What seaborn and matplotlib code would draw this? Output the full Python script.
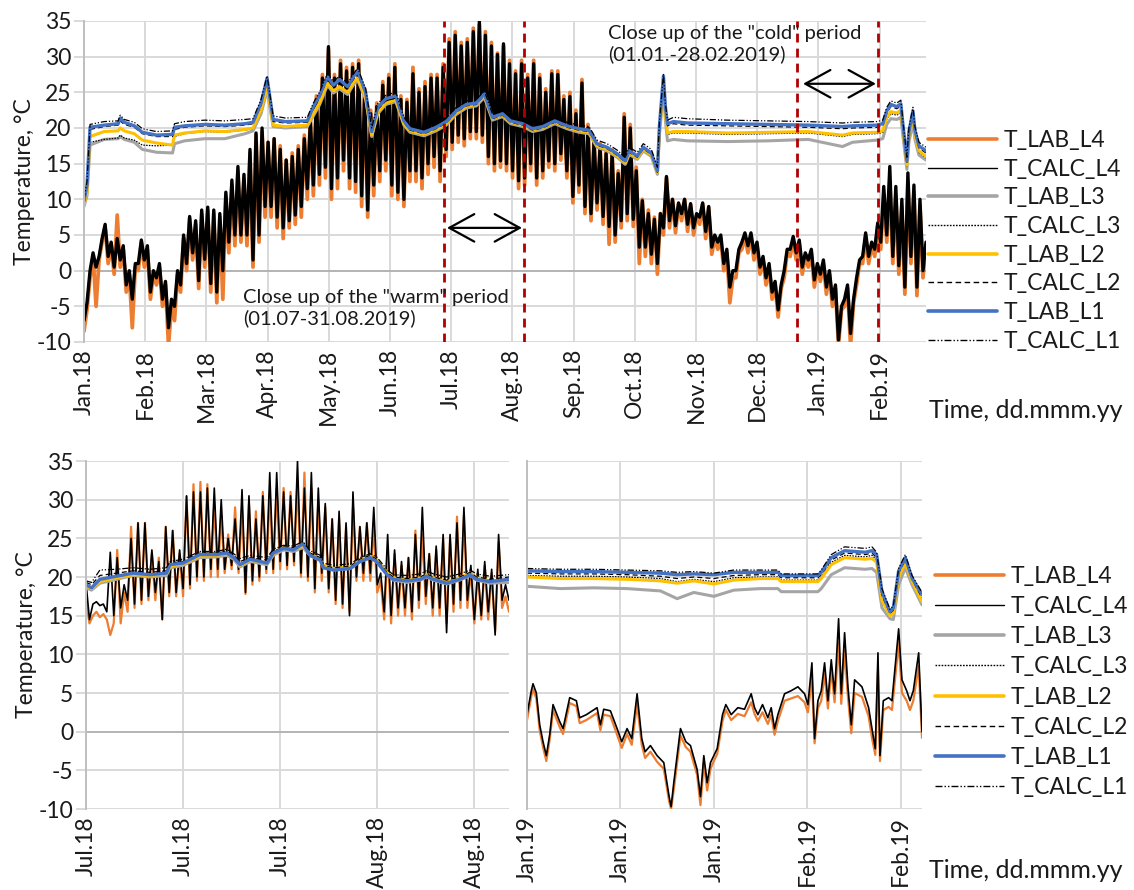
import numpy as np
import matplotlib
matplotlib.use("Agg")
import matplotlib.pyplot as plt
from matplotlib.lines import Line2D
import seaborn as sns

# ---------------------------------------------------------------- data
# Full period (days from the start of the record, 01.2018 - 02.2019)
top_ticks_labels = ["Jan.18", "Feb.18", "Mar.18", "Apr.18", "May.18", "Jun.18", "Jul.18",
                    "Aug.18", "Sep.18", "Oct.18", "Nov.18", "Dec.18", "Jan.19", "Feb.19"]
top_tick_step = 30.42
top_xmax = 418.5

# outdoor temperature, sampled every 1.5 days (night low / day high)
top_out_step = 1.5
top_calc_l4 = [
    -7, -4.5, 0, 2.5, 0.5, 2, 4.5, 6.5, 2, 4, 0.5, 4.5, 1.5, 3.5, -2, 0, -4, 1, 1, 4.3,
    1.5, 3.5, -3, 0, -1, 1, -4, -1.5, -8, -4, -5, 0, -2, 5, 1, 7.6, 2.5, 7, -1.4, 8.5,
    1.6, 8.9, -1.8, 8.5, -3, 8, 0, 11, 4, 12.7, 5, 14.6, 5, 13.5, 5, 17, 1.5, 19.3, 5, 20,
    9, 18, 9, 18.5, 7.5, 17, 6, 15.5, 7, 16, 7.8, 17, 9, 18.5, 11.5, 21, 12, 24, 13.5, 27,
    14.5, 31.4, 11.5, 27, 13, 29, 15.5, 28, 13, 28.5, 12.5, 29, 10.5, 25, 8.5, 22, 12, 23, 14, 26,
    15.5, 27, 12, 28.5, 11, 24, 10, 23.6, 14, 27.6, 14, 25, 13, 25.8, 15, 27, 16, 27, 14, 28.5,
    17, 32, 18, 33, 19, 31.5, 18.5, 32, 19.5, 33.5, 19.5, 34.9, 19, 33, 16, 31.5, 15, 30.3, 15.4, 31.8,
    15, 29, 14, 27.6, 12.6, 29, 13, 27, 15, 29, 13, 27, 14, 25, 15.4, 27.6, 15, 27.5, 16.4, 24,
    14, 24.4, 10.4, 22, 12, 26.3, 9, 20, 8, 18.2, 9.5, 17.3, 7.6, 16.4, 6.2, 16.4, 5, 13.6, 7, 21.5,
    8, 20, 7.2, 14, 3.3, 9.8, 3.3, 8, 2.3, 7.2, 1, 8, 6, 13.2, 7, 10, 6.3, 9.5, 8, 10,
    6.5, 9.4, 6, 8, 7.5, 9.5, 5.5, 9, 3.3, 5, 4, 5, 1, 3, -2.3, 0, 0, 3, 4, 5.3,
    3.5, 5.3, 2.5, 4, 0.5, 2, -1, 1, -3, -1.5, -5.5, -2, 0, 3, 3, 4.8, 2.5, 4.3, 0.5, 2.5,
    1.5, 3, -1.3, 1, -0.5, 1.5, -2.3, 0, -4, -2, -9.7, -5, -4, -2, -8.8, -4, -1, 1.5, 2, 5.3,
    2, 4, 3, 6.7, 4, 11.8, 5, 14.6, 2, 11.8, 0.7, 10, -2.3, 13.7, 2, 12, -2.3, 10, 0, 4,
]
top_lab_l4 = [
    -8.5, -5.5, -1, 2, -5, 1.5, 4, 6, 1, 3.5, -0.5, 7.8, 0.5, 3, -3, -0.5, -8, 0.5, 0, 4,
    0.5, 3, -4, -0.5, -2, 0.5, -5, -2, -10.5, -5, -7, -0.5, -3, 4.5, 0, 7.3, 1.5, 6.5, -2.5, 8,
    0.5, 8.5, -3, 8, -4.5, 7.5, -4, 10.5, 2.5, 12, 3.5, 14, 4, 13, 3.5, 16.5, 0.5, 19, 4, 19.5,
    7.5, 18, 7.5, 18.5, 6, 17.5, 4.5, 15.5, 6, 16.5, 6.5, 17.5, 7.5, 19, 10, 21.5, 10.5, 24.5, 12, 27.5,
    13, 31, 10, 27.5, 11.5, 29.5, 14, 28.5, 11.5, 29, 11, 29.5, 9, 25.5, 7.5, 22.5, 10.5, 23.5, 12.5, 26.5,
    14, 27.5, 10.5, 29, 10, 24.5, 9, 24, 12.5, 28.5, 12.5, 25.5, 11.5, 26.5, 13.5, 27.5, 14.5, 27.5, 12.5, 29,
    16, 32.5, 17, 33.5, 18, 32, 17.5, 32.5, 18.5, 34, 18.5, 34.5, 18, 33.5, 15, 32, 14, 30.5, 14.5, 31.5,
    14, 29.5, 13, 28, 11.5, 29.5, 12, 27.5, 14, 29.5, 12, 27.5, 13, 25.5, 14.5, 28, 14, 28, 15.5, 24.5,
    13, 25, 9.5, 22.5, 11, 26.8, 8, 20.5, 7, 18.7, 8.5, 17.8, 6.5, 16.9, 3.7, 16.9, 4, 14, 6, 22,
    7, 20.5, 6.2, 14.5, 1, 10, 2, 8.5, 1, 7.5, -0.5, 8, 5, 13, 6, 10, 5.3, 9.3, 7, 10,
    5.5, 9.2, 5, 7.8, 6.5, 9.3, 4.5, 8.8, 2.3, 4.5, 3, 4.5, 0, 2.5, -4.5, -1, -1, 2.5, 3, 4.8,
    2.5, 4.8, 1.5, 3.5, -0.5, 1.5, -2, 0.5, -4, -2, -6.5, -2.5, -1, 2.5, 2, 4.3, 1.5, 3.8, -0.5, 2,
    0.5, 2.5, -2.3, 0.5, -1.5, 1, -3.3, -0.5, -5, -2.5, -10.5, -5.5, -5, -2.5, -10.5, -4.5, -2, 1, 1, 4.8,
    1, 3.5, 2, 6.2, 3, 10.5, 4, 12.5, 1, 10.5, -0.5, 9, -3.3, 12.5, 1, 11, -3.5, 9, -1, 3.5,
]

# indoor temperatures at the four locations
top_in_day = [0, 1.5, 3, 10, 17, 18, 20, 25, 29, 36, 44, 45, 50, 60, 70, 80, 84, 88, 91, 94,
              100, 111, 114, 117, 121, 124, 127, 131, 134, 136, 140, 143, 146, 150, 155, 159, 162, 169, 175, 180,
              185, 190, 195, 199, 203, 208, 212, 218, 223, 228, 234, 240, 246, 251, 255, 260, 265, 269, 271, 275,
              278, 282, 285, 286, 288, 289, 290, 293, 300, 320, 340, 360, 377, 382, 394, 397, 399, 401, 404, 406,
              407, 409, 410, 412, 413, 415, 418.5]
top_lab_l1 = [9.8, 12, 20.1, 20.4, 20.6, 21.4, 20.8, 20.3, 19.4, 19.0, 19.1, 20.1, 20.3, 20.5, 20.4, 20.6, 20.8, 23.5, 27.0, 21.2,
              20.9, 21.0, 23.0, 24.5, 27.2, 26.0, 26.8, 25.8, 27.2, 28.0, 25.0, 19.5, 22.9, 24.1, 24.5, 21.0, 19.9, 19.4, 20.1, 20.9,
              22.4, 23.3, 23.5, 24.8, 21.5, 22.0, 21.0, 20.6, 19.9, 20.2, 21.0, 20.3, 19.9, 19.7, 17.8, 17.3, 16.4, 15.4, 16.8, 16.1,
              17.3, 16.5, 14.0, 20.3, 27.3, 22.9, 20.6, 20.9, 20.7, 20.6, 20.5, 20.4, 20.2, 20.3, 20.4, 20.6, 22.4, 23.3, 23.0, 23.4,
              20.6, 15.4, 19.5, 22.4, 19.7, 17.5, 16.8]
top_lab_l2 = [9.3, 11, 18.8, 19.5, 19.6, 20.0, 19.6, 19.2, 18.3, 17.9, 17.6, 19.0, 19.3, 19.6, 19.5, 19.8, 20.0, 22.5, 25.8, 20.4,
              20.2, 20.4, 22.0, 23.5, 26.3, 25.2, 25.8, 25.0, 26.4, 27.0, 24.3, 19.0, 22.2, 23.5, 23.9, 20.6, 19.6, 19.1, 19.8, 20.6,
              22.1, 23.0, 23.3, 24.5, 21.3, 21.8, 20.8, 20.4, 19.7, 20.0, 20.8, 20.1, 19.6, 19.4, 17.5, 17.0, 16.1, 15.1, 16.5, 15.8,
              17.0, 16.2, 13.8, 19.5, 26.0, 22.0, 19.3, 19.5, 19.5, 19.3, 19.4, 19.5, 19.0, 19.3, 19.4, 19.6, 21.5, 22.3, 22.1, 22.5,
              19.8, 14.8, 18.8, 21.7, 19.0, 16.8, 16.0]
top_lab_l3 = [9.0, 10.5, 17.6, 18.4, 18.5, 18.8, 18.4, 18.0, 17.0, 16.6, 16.5, 17.8, 18.2, 18.5, 18.5, 19.2, 19.6, 22.0, 25.3, 20.2,
              20.0, 20.2, 21.7, 23.2, 26.0, 24.9, 25.5, 24.7, 26.1, 26.7, 24.0, 18.8, 22.0, 23.3, 23.7, 20.4, 19.4, 18.9, 19.6, 20.4,
              21.9, 22.8, 23.1, 24.3, 21.1, 21.6, 20.6, 20.2, 19.5, 19.8, 20.6, 19.9, 19.4, 19.2, 17.3, 16.8, 15.9, 14.9, 16.3, 15.6,
              16.8, 16.0, 13.5, 19.0, 25.5, 21.0, 18.2, 18.4, 18.2, 18.1, 18.2, 18.4, 17.4, 18.0, 18.3, 18.5, 20.5, 21.3, 21.2, 21.5,
              19.0, 14.2, 18.0, 20.8, 18.4, 16.2, 15.5]
top_calc_l1 = [10.0, 12.5, 20.5, 20.9, 21.0, 21.8, 21.2, 20.8, 19.9, 19.5, 19.6, 20.6, 20.9, 21.1, 21.0, 21.2, 21.3, 24.0, 27.3, 21.7,
               21.4, 21.5, 23.5, 25.0, 27.6, 26.5, 27.3, 26.3, 27.6, 28.4, 25.5, 20.0, 23.4, 24.6, 25.0, 21.5, 20.4, 19.9, 20.6, 21.4,
               22.9, 23.8, 24.0, 25.2, 22.0, 22.5, 21.5, 21.1, 20.4, 20.7, 21.5, 20.8, 20.4, 20.2, 18.3, 17.8, 16.9, 15.9, 17.3, 16.6,
               17.8, 17.0, 14.5, 20.8, 27.6, 23.3, 21.1, 21.5, 21.3, 21.1, 21.0, 20.9, 20.7, 20.8, 20.9, 21.1, 22.9, 23.8, 23.5, 23.9,
               21.1, 15.9, 20.0, 22.9, 20.2, 18.0, 17.3]
top_calc_l2 = [9.6, 11.8, 19.8, 20.2, 20.4, 21.0, 20.5, 20.1, 19.2, 18.8, 18.8, 19.8, 20.1, 20.3, 20.2, 20.4, 20.6, 23.2, 26.6, 20.9,
               20.7, 20.8, 22.7, 24.2, 26.9, 25.7, 26.5, 25.5, 26.9, 27.7, 24.7, 19.3, 22.6, 23.8, 24.2, 20.8, 19.7, 19.2, 19.9, 20.7,
               22.2, 23.1, 23.3, 24.6, 21.3, 21.8, 20.8, 20.4, 19.7, 20.0, 20.8, 20.1, 19.7, 19.5, 17.6, 17.1, 16.2, 15.2, 16.6, 15.9,
               17.1, 16.3, 13.8, 20.0, 26.8, 22.6, 20.3, 20.6, 20.4, 20.3, 20.2, 20.1, 19.9, 20.0, 20.1, 20.3, 22.1, 23.0, 22.7, 23.1,
               20.3, 15.1, 19.2, 22.1, 19.4, 17.2, 16.5]
top_calc_l3 = [9.2, 10.8, 18.0, 18.4, 18.6, 19.0, 18.6, 18.3, 17.6, 17.5, 17.6, 18.8, 19.2, 19.5, 19.4, 19.7, 19.9, 22.3, 25.6, 20.3,
               20.1, 20.3, 21.9, 23.4, 26.2, 25.1, 25.7, 24.9, 26.3, 26.9, 24.2, 18.9, 22.1, 23.4, 23.8, 20.5, 19.5, 19.0, 19.7, 20.5,
               22.0, 22.9, 23.2, 24.4, 21.2, 21.7, 20.7, 20.3, 19.6, 19.9, 20.7, 20.0, 19.5, 19.3, 17.4, 16.9, 16.0, 15.0, 16.4, 15.7,
               16.9, 16.1, 13.7, 19.4, 25.8, 21.6, 19.1, 19.3, 19.3, 19.1, 19.2, 19.3, 18.8, 19.1, 19.2, 19.4, 21.2, 22.0, 21.8, 22.2,
               19.5, 14.6, 18.5, 21.4, 18.8, 16.6, 15.8]

# marked close-up periods on the full record (days) and arrow heights (degC)
warm_marks = [178.9, 218.7]
cold_marks = [354.6, 394.4]
warm_arrow = (180.4, 217.7, 6.0)
cold_arrow = (357.4, 393.6, 26.2)

# "warm" period, 01.07 - 31.08.2018, outdoor sampled every half day
warm_labels = ["Jul.18", "Jul.18", "Jul.18", "Aug.18", "Aug.18"]
warm_step = 0.5
warm_calc_l4 = [
    19.3, 14.5, 16.5, 16.8, 16.3, 16.5, 15.5, 23.2, 15, 22.5, 16, 19, 17, 25, 16.5, 27, 17, 27, 17.5, 23.5,
    18, 22, 14.5, 26.5, 18, 26, 18, 23.5, 18.5, 30.5, 19, 31, 20, 31, 20, 31.5, 21, 31.5, 21, 30,
    21, 25, 21.5, 27.5, 21, 31.3, 18, 30.5, 19.5, 27.5, 20, 30.5, 21, 33.5, 21, 33.5, 22, 31, 21.5, 30.5,
    22, 35, 20.5, 31.5, 20, 33.5, 18.5, 31.5, 20.5, 29.5, 18.5, 27.5, 17, 28.5, 16.5, 27, 15, 31, 20, 26.5,
    20.5, 27, 20.5, 29, 19, 20.5, 15.5, 25.5, 15, 23.5, 16, 22, 16, 22.5, 15.5, 25.5, 17, 29, 17.5, 23,
    16, 24, 16, 25.5, 12.8, 25.5, 16.5, 27, 17, 29, 17, 21.5, 14.5, 21, 15, 22, 15.5, 21, 12.5, 25.5,
    17, 19, 17,
]
warm_lab_l4 = [
    17, 14, 15, 15.5, 14.8, 15.2, 14.5, 12.5, 14, 23.5, 14, 18, 15.5, 26.5, 16, 27, 16.5, 27, 17, 23,
    17, 22.5, 14.5, 26.5, 17.5, 26, 17.5, 23, 17.5, 30.4, 18.5, 32, 19.5, 32.3, 19.5, 32, 20, 29.5, 20, 28,
    20.5, 25.5, 21, 29, 20.5, 28.5, 17.8, 29.5, 19, 28.5, 19.5, 31, 20.5, 31, 20.5, 31.5, 21, 31.5, 21, 31,
    21.5, 32.5, 20, 33.5, 19.5, 31.5, 18, 30, 19.5, 29, 18, 27.5, 16.5, 27.5, 16, 26.5, 15.5, 29, 19.5, 26.5,
    19.5, 27, 19.5, 26.5, 18, 19.5, 14.5, 23.5, 14, 23, 15, 21.5, 15, 22.5, 14.5, 26, 16, 25.5, 16.5, 23,
    15, 23.5, 15, 25, 14, 25, 15.5, 27.8, 16, 28, 16, 21, 14, 20.5, 14.5, 21.5, 14.5, 20.5, 13, 24.5,
    16, 17.5, 15.5,
]
warm_in_day = [0, 0.8, 2, 4.4, 6.8, 9.2, 11.6, 12.1, 14, 16.4, 18.8, 20.3, 21.3, 22.2, 23.7, 26.1, 27, 28.5, 29.9, 31.3,
               32.3, 33.8, 34.2, 35.7, 38.1, 39.5, 41, 41.9, 43.4, 44.3, 46.3, 48.2, 49.1, 50.1, 52, 53.9, 55.4, 56.3, 58.3, 61]
warm_lab_l1 = [19.0, 18.6, 19.7, 20.1, 20.5, 20.3, 20.5, 21.6, 21.8, 22.9, 22.9, 23.1, 22.5, 21.6, 22.3, 21.8, 23.1, 23.7, 23.5, 24.3,
               22.8, 22.2, 21.2, 20.9, 21.1, 22.0, 22.5, 22.0, 20.3, 19.7, 19.5, 19.7, 20.1, 19.7, 19.2, 19.7, 20.3, 19.7, 19.4, 19.7]
warm_lab_l2 = [18.8, 18.5, 19.4, 19.9, 20.3, 20.2, 20.4, 21.4, 21.7, 22.7, 22.8, 23.0, 22.5, 21.5, 22.2, 21.8, 23.0, 23.8, 23.6, 24.0,
               23.0, 22.3, 21.5, 21.1, 21.3, 22.2, 22.7, 22.2, 20.6, 19.9, 19.6, 19.9, 20.3, 19.9, 19.4, 19.9, 20.5, 19.9, 19.5, 19.6]
warm_lab_l3 = [18.6, 18.3, 19.2, 19.7, 20.2, 20.0, 20.2, 21.2, 21.5, 22.5, 22.6, 22.8, 22.3, 21.3, 22.0, 21.6, 22.8, 23.5, 23.3, 23.8,
               22.8, 22.1, 21.3, 20.9, 21.1, 22.0, 22.5, 22.0, 20.4, 19.6, 19.3, 19.6, 20.0, 19.6, 19.1, 19.6, 20.2, 19.6, 19.2, 19.3]
warm_calc_l1 = [19.5, 19.3, 20.9, 21.0, 21.2, 21.0, 21.2, 22.0, 22.3, 23.3, 23.3, 23.6, 23.0, 22.4, 22.8, 22.5, 23.6, 24.1, 24.0, 24.6,
                23.4, 22.8, 21.8, 21.5, 21.7, 22.5, 23.0, 22.6, 21.0, 20.3, 20.2, 20.4, 20.8, 20.4, 20.0, 20.4, 20.9, 20.4, 20.1, 20.3]
warm_calc_l2 = [19.3, 19.0, 20.2, 20.5, 20.8, 20.6, 20.8, 21.8, 22.0, 23.1, 23.1, 23.3, 22.8, 22.0, 22.5, 22.2, 23.3, 23.9, 23.8, 24.4,
                23.1, 22.5, 21.5, 21.2, 21.4, 22.3, 22.8, 22.3, 20.6, 20.0, 19.8, 20.0, 20.4, 20.0, 19.6, 20.0, 20.6, 20.0, 19.7, 20.0]
warm_calc_l3 = [19.0, 18.7, 19.6, 20.1, 20.5, 20.3, 20.5, 21.5, 21.8, 22.8, 22.9, 23.1, 22.6, 21.7, 22.3, 21.9, 23.1, 23.8, 23.6, 24.2,
                23.0, 22.3, 21.4, 21.0, 21.2, 22.1, 22.6, 22.1, 20.5, 19.8, 19.6, 19.8, 20.2, 19.8, 19.3, 19.8, 20.4, 19.8, 19.5, 19.8]

# "cold" period, 01.01 - 28.02.2019
cold_labels = ["Jan.19", "Jan.19", "Jan.19", "Feb.19", "Feb.19"]
cold_out_day = [0.0, 0.65, 0.9, 1.4, 1.9, 2.4, 2.9, 3.4, 3.9, 4.9, 5.4, 6.4, 7.4, 7.9, 8.9, 10.5, 11.0, 11.5, 12.5, 13.5,
                14.2, 15.0, 15.7, 16.5, 17.2, 17.7, 18.5, 19.5, 20.5, 21.3, 21.6, 22.0, 22.5, 23.0, 23.8, 24.5, 25.5, 26.0, 26.5, 27.0,
                27.5, 28.0, 28.5, 29.3, 29.8, 30.6, 31.6, 32.6, 33.6, 34.1, 34.6, 35.3, 36.1, 36.6, 37.1, 37.6, 38.6, 39.6, 40.6, 41.6,
                42.1, 42.7, 43.1, 43.6, 44.1, 44.6, 45.1, 45.6, 46.1, 46.7, 47.1, 47.6, 48.1, 48.6, 49.1, 50.2, 51.2, 51.7, 52.2, 52.6,
                52.9, 53.4, 54.2, 54.7, 55.7, 56.2, 56.9, 57.4, 57.9, 58.7, 59.2]
cold_calc_l4 = [2.2, 5.3, 6.2, 5.0, 0.9, -1.3, -3.1, -0.4, 3.5, 1.3, 0.4, 4.4, 4.0, 1.8, 2.2, 3.1, 0.9, 2.9, 2.7, 0.4,
                -1.3, 0.4, -0.9, 4.9, -0.9, -2.6, -1.8, -3.1, -4.0, -8.4, -9.7, -6.6, -3.1, 0.4, -1.3, -1.8, -4.9, -8.4, -3.1, -6.6,
                -4.0, -3.1, -2.2, 2.2, 3.5, 2.2, 3.1, 2.9, 4.9, 3.1, 2.2, 3.5, 1.8, 3.1, 0.4, 2.2, 4.9, 5.3, 5.8, 4.9,
                3.5, 8.9, -0.9, 4.0, 5.3, 8.9, 4.0, 9.3, 4.9, 14.6, 4.9, 12.8, 5.8, 0.9, 6.7, 5.8, 3.1, 0.4, -2.2, 10.2,
                -3.1, 4.0, 4.4, 4.0, 13.3, 6.7, 5.3, 4.0, 5.3, 10.2, 0.0]
cold_lab_l4 = [1.5, 4.6, 5.5, 4.3, 0.2, -2.0, -3.8, -1.0, 2.8, 0.6, -0.3, 3.7, 3.3, 1.1, 1.5, 2.4, 0.2, 2.2, 2.0, -0.4,
               -2.1, -0.3, -1.7, 3.6, -1.7, -3.4, -2.6, -3.9, -4.8, -9.0, -10.0, -7.5, -4.0, -0.5, -2.0, -2.6, -5.6, -9.5, -4.0, -7.6,
               -4.8, -3.8, -2.9, 1.4, 2.8, 1.5, 2.3, 2.0, 3.8, 2.3, 1.4, 2.5, 1.0, 2.2, -0.4, 1.4, 4.0, 4.3, 4.6, 3.8,
               2.5, 7.0, -1.5, 3.0, 4.0, 7.5, 3.0, 8.0, 3.8, 11.5, 3.6, 10.5, 4.5, -0.2, 5.0, 4.5, 2.0, -0.8, -3.0, 8.0,
               -3.8, 2.8, 3.2, 2.8, 11.5, 5.0, 4.0, 2.8, 4.0, 8.5, -0.8]
cold_in_day = [0, 5, 10, 15, 20, 22.5, 25, 28, 31, 35, 37.6, 38.1, 43.6, 44.1, 45.6, 47.6, 49.1, 50.7, 51.7, 52.4,
               53.2, 54.4, 54.9, 55.7, 56.7, 57.7, 59.2]
cold_lab_l1 = [20.8, 20.7, 20.7, 20.6, 20.5, 20.3, 20.4, 20.3, 20.6, 20.6, 20.6, 20.2, 20.2, 20.6, 22.5, 23.4, 23.3, 23.2, 23.4, 22.9,
               18.1, 15.5, 16.0, 20.8, 22.5, 19.9, 17.7]
cold_lab_l2 = [20.0, 19.8, 19.8, 19.7, 19.5, 19.2, 19.5, 19.1, 19.6, 19.8, 19.8, 19.4, 19.4, 19.8, 21.6, 22.5, 22.4, 22.3, 22.4, 21.9,
               17.0, 15.0, 15.3, 20.0, 21.8, 19.5, 16.8]
cold_lab_l3 = [18.8, 18.5, 18.6, 18.5, 18.2, 17.2, 18.0, 17.5, 18.3, 18.5, 18.5, 18.1, 18.1, 18.5, 20.3, 21.2, 21.1, 21.0, 21.1, 20.6,
               16.0, 14.6, 14.5, 19.0, 21.2, 19.0, 16.4]
cold_calc_l1 = [21.1, 21.0, 21.0, 20.9, 20.8, 20.6, 20.7, 20.5, 20.9, 20.9, 20.9, 20.4, 20.4, 20.9, 22.9, 23.9, 23.8, 23.7, 23.9, 23.2,
                18.5, 15.8, 16.3, 21.1, 22.9, 20.2, 18.0]
cold_calc_l2 = [20.5, 20.4, 20.4, 20.3, 20.1, 19.8, 20.0, 19.8, 20.2, 20.3, 20.3, 19.9, 19.9, 20.3, 22.2, 23.1, 23.0, 22.9, 23.1, 22.5,
                17.6, 15.3, 15.7, 20.5, 22.2, 19.7, 17.3]
cold_calc_l3 = [20.2, 20.1, 20.1, 20.0, 19.8, 19.4, 19.7, 19.4, 19.9, 20.0, 20.0, 19.6, 19.6, 20.0, 21.9, 22.8, 22.7, 22.6, 22.8, 22.2,
                17.3, 15.1, 15.5, 20.2, 21.9, 19.6, 17.0]

series_names = ["T_LAB_L4", "T_CALC_L4", "T_LAB_L3", "T_CALC_L3",
                "T_LAB_L2", "T_CALC_L2", "T_LAB_L1", "T_CALC_L1"]

# ---------------------------------------------------------------- styles
C_ORANGE = "#ED7D31"
C_GREY = "#A5A5A5"
C_YELLOW = "#FFC000"
C_BLUE = "#4472C4"
C_GRID = "#D9D9D9"
C_TEXT = "#1A1A1A"

styles = {
    "T_LAB_L4": dict(color=C_ORANGE, lw=1.6, ls="-"),
    "T_CALC_L4": dict(color="black", lw=1.2, ls="-"),
    "T_LAB_L3": dict(color=C_GREY, lw=2.2, ls="-"),
    "T_CALC_L3": dict(color="black", lw=0.9, ls=(0, (1.2, 1.0))),
    "T_LAB_L2": dict(color=C_YELLOW, lw=2.2, ls="-"),
    "T_CALC_L2": dict(color="black", lw=0.9, ls=(0, (4.0, 2.5))),
    "T_LAB_L1": dict(color=C_BLUE, lw=2.4, ls="-"),
    "T_CALC_L1": dict(color="black", lw=0.9, ls=(0, (5.0, 1.5, 1.0, 1.5, 1.0, 1.5))),
}

sns.set_theme(style="white")
plt.rcParams["font.family"] = ["Lato", "DejaVu Sans"]
plt.rcParams["text.color"] = C_TEXT
plt.rcParams["axes.unicode_minus"] = False
FS = 16.5


def draw(ax, x, y, name, lw=None):
    st = styles[name]
    sns.lineplot(x=np.asarray(x, float), y=np.asarray(y, float), ax=ax,
                 estimator=None, sort=False, color=st["color"],
                 linewidth=st["lw"] if lw is None else lw)
    ax.lines[-1].set_linestyle(st["ls"])
    ax.lines[-1].set_solid_joinstyle("round")


def style_axes(ax, ticks, labels, xmax, show_y=True):
    ax.set_xlim(0, xmax)
    ax.set_ylim(-10, 35)
    yt = np.arange(-10, 36, 5)
    ax.set_yticks(yt)
    ax.set_yticklabels([str(v) for v in yt])
    ax.set_xticks(ticks)
    ax.set_xticklabels(labels, rotation=90, fontsize=FS, color=C_TEXT)
    ax.grid(True, color=C_GRID, lw=1.4)
    ax.set_axisbelow(True)
    for s in ["top", "right", "bottom"]:
        ax.spines[s].set_visible(False)
    ax.spines["left"].set_color("#BFBFBF")
    ax.spines["left"].set_linewidth(1.4)
    ax.axhline(0, color="#B4B4B4", lw=1.4, zorder=1.2)
    ax.tick_params(axis="x", length=0, pad=5)
    if show_y:
        ax.tick_params(axis="y", length=7, width=1.4, color=C_GRID, labelsize=FS,
                       labelcolor=C_TEXT, pad=2, left=True)
        ax.set_ylabel("Temperature, °C", fontsize=FS, color=C_TEXT, labelpad=1)
    else:
        ax.tick_params(axis="y", length=0, labelleft=False)
        ax.set_ylabel("")
    ax.set_xlabel("")


W, H = 1134, 890
fig = plt.figure(figsize=(W / 100, H / 100), dpi=100)
ax_top = fig.add_axes([84 / W, 1 - 342 / H, (926 - 84) / W, (342 - 21) / H])
ax_warm = fig.add_axes([86 / W, 1 - 809 / H, (509 - 86) / W, (809 - 461) / H])
ax_cold = fig.add_axes([527 / W, 1 - 809 / H, (922 - 527) / W, (809 - 461) / H])

# ---- full record (thicker outdoor strokes so the daily swings read as a band)
top_out_day = np.arange(len(top_calc_l4)) * top_out_step
draw(ax_top, top_out_day, top_lab_l4, "T_LAB_L4", lw=2.7)
draw(ax_top, top_out_day, top_calc_l4, "T_CALC_L4", lw=2.4)
for name, vals in [("T_LAB_L3", top_lab_l3), ("T_CALC_L3", top_calc_l3),
                   ("T_LAB_L2", top_lab_l2), ("T_CALC_L2", top_calc_l2),
                   ("T_LAB_L1", top_lab_l1), ("T_CALC_L1", top_calc_l1)]:
    draw(ax_top, top_in_day, vals, name)
style_axes(ax_top, np.arange(len(top_ticks_labels)) * top_tick_step, top_ticks_labels, top_xmax)

for xm in warm_marks + cold_marks:
    ax_top.axvline(xm, color="#B00000", lw=2.0, ls=(0, (3.2, 2.2)), zorder=5)
arrow_kw = dict(arrowstyle="<->,head_length=0.6,head_width=0.33", color="black",
                lw=1.6, mutation_scale=30, shrinkA=0, shrinkB=0)
for x0, x1, yv in [warm_arrow, cold_arrow]:
    ax_top.annotate("", xy=(x1, yv), xytext=(x0, yv), arrowprops=arrow_kw, zorder=6)
ax_top.text(79, -2.6, 'Close up of the "warm" period\n(01.07-31.08.2019)', fontsize=14.5,
            ha="left", va="top", linespacing=1.2, color=C_TEXT, zorder=6)
ax_top.text(260.5, 34.4, 'Close up of the "cold" period\n(01.01.-28.02.2019)', fontsize=14.5,
            ha="left", va="top", linespacing=1.2, color=C_TEXT, zorder=6)

# ---- warm close-up
warm_out_day = np.arange(len(warm_calc_l4)) * warm_step
draw(ax_warm, warm_out_day, warm_lab_l4, "T_LAB_L4")
draw(ax_warm, warm_out_day, warm_calc_l4, "T_CALC_L4")
for name, vals in [("T_LAB_L3", warm_lab_l3), ("T_CALC_L3", warm_calc_l3),
                   ("T_LAB_L2", warm_lab_l2), ("T_CALC_L2", warm_calc_l2),
                   ("T_LAB_L1", warm_lab_l1), ("T_CALC_L1", warm_calc_l1)]:
    draw(ax_warm, warm_in_day, vals, name)
style_axes(ax_warm, [0, 14, 28, 42, 56], warm_labels, 61)

# ---- cold close-up
draw(ax_cold, cold_out_day, cold_lab_l4, "T_LAB_L4")
draw(ax_cold, cold_out_day, cold_calc_l4, "T_CALC_L4")
for name, vals in [("T_LAB_L3", cold_lab_l3), ("T_CALC_L3", cold_calc_l3),
                   ("T_LAB_L2", cold_lab_l2), ("T_CALC_L2", cold_calc_l2),
                   ("T_LAB_L1", cold_lab_l1), ("T_CALC_L1", cold_calc_l1)]:
    draw(ax_cold, cold_in_day, vals, name)
style_axes(ax_cold, [0, 14, 28, 42, 56], cold_labels, 59.2, show_y=False)

# ---- legends and time labels
handles = [Line2D([], [], color=styles[n]["color"],
                  lw=2.6 if n.startswith("T_LAB") else 1.0, ls=styles[n]["ls"])
           for n in series_names]
for x_px, top_px, spacing in [(928, 130, 0.335), (935, 566, 0.40)]:
    fig.legend(handles, series_names, loc="upper left",
               bbox_to_anchor=(x_px / W, 1 - top_px / H), frameon=False, fontsize=FS,
               handlelength=3.0, handletextpad=0.3, labelspacing=spacing,
               borderpad=0, borderaxespad=0)
fig.text(929 / W, 1 - 410 / H, "Time, dd.mmm.yy", fontsize=18, ha="left", va="center")
fig.text(929 / W, 1 - 870 / H, "Time, dd.mmm.yy", fontsize=18, ha="left", va="center")

fig.savefig("out.png", dpi=100, facecolor="white")
